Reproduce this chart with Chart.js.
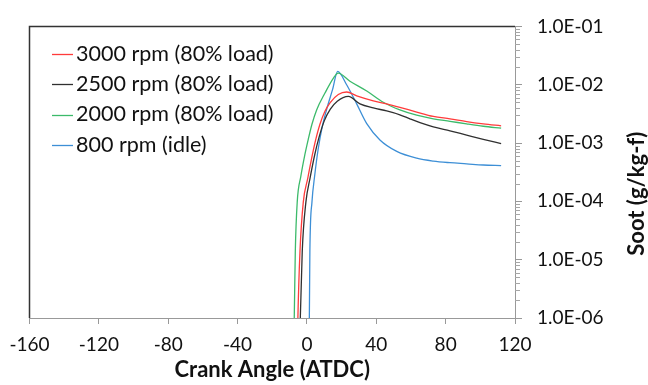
<!DOCTYPE html>
<html>
<head>
<meta charset="utf-8">
<script src="https://cdn.jsdelivr.net/npm/chart.js@4.4.0/dist/chart.umd.min.js"></script>
<style>
  html, body { margin: 0; padding: 0; background: #fff; }
</style>
</head>
<body>
<canvas id="sootChart" width="648" height="385"></canvas>
<script>
// crank angle (deg ATDC) and soot (g/kg-f)
const angle3000 = [-5.4, -5.2, -4.0, -2.1, 0.5, 3.0, 5.0, 7.5, 10.4, 13.3, 18.1, 22.9, 28.7, 38.3, 46, 53.6, 63.3, 72.9, 82.5, 92.1, 101.7, 112];
const soot3000 = [5e-7, 1.05e-6, 1.4e-5, 9.7e-5, 2.5e-4, 6.0e-4, 1.12e-3, 2.1e-3, 3.5e-3, 4.9e-3, 6.8e-3, 7.5e-3, 6.45e-3, 5.3e-3, 4.7e-3, 4.1e-3, 3.4e-3, 2.86e-3, 2.6e-3, 2.33e-3, 2.13e-3, 1.97e-3];

const angle2500 = [-4.0, -3.8, -2.7, -0.6, 1.8, 4.5, 7.0, 10.0, 13.5, 17.5, 23.9, 30.6, 38.3, 46, 53.6, 59.4, 65.2, 72.9, 82.5, 92.1, 101.7, 112];
const soot2500 = [5e-7, 1.05e-6, 1.4e-5, 9.7e-5, 2.5e-4, 6.3e-4, 1.26e-3, 2.4e-3, 3.8e-3, 5.2e-3, 6.3e-3, 4.7e-3, 4.0e-3, 3.55e-3, 3.05e-3, 2.6e-3, 2.24e-3, 1.9e-3, 1.62e-3, 1.37e-3, 1.16e-3, 9.8e-4];

const angle2000 = [-7.6, -7.3, -6.7, -5.6, -3.5, -1.2, 0.8, 2.9, 5.6, 10.4, 15.2, 18, 24.8, 34.5, 44, 53.6, 63.3, 72.9, 82.5, 92.1, 101.7, 112];
const soot2000 = [5e-7, 1.05e-6, 1.4e-5, 9.7e-5, 2.7e-4, 6.3e-4, 1.17e-3, 2.1e-3, 3.7e-3, 7.2e-3, 1.29e-2, 1.58e-2, 1.15e-2, 7.8e-3, 5.0e-3, 3.7e-3, 3.0e-3, 2.6e-3, 2.36e-3, 2.13e-3, 1.94e-3, 1.8e-3];

const angle800 = [1.2, 1.4, 1.7, 2.9, 4.5, 6.5, 9.0, 12.0, 14.8, 17.7, 22.9, 28.7, 34.5, 42.1, 51.8, 63.3, 72.9, 82.5, 92.1, 101.7, 112];
const soot800 = [5e-7, 1.05e-6, 1.4e-5, 9.7e-5, 2.8e-4, 7.9e-4, 2.0e-3, 4.4e-3, 8.3e-3, 1.7e-2, 1.0e-2, 4.7e-3, 2.15e-3, 1.13e-3, 7.2e-4, 5.5e-4, 4.9e-4, 4.6e-4, 4.4e-4, 4.2e-4, 4.1e-4];

const seriesLabels = ['3000 rpm (80% load)', '2500 rpm (80% load)', '2000 rpm (80% load)', '800 rpm (idle)'];
const seriesColors = ['#ff3b3b', '#303030', '#3cba6a', '#3d8fd6'];
const xTicks = [-160, -120, -80, -40, 0, 40, 80, 120];
const yDecades = [1e-6, 1e-5, 1e-4, 1e-3, 1e-2, 1e-1];

const FONT = 'Lato';
const TEXT = '#111111';

function toPoints(xs, ys) {
  return xs.map((x, i) => ({ x: x, y: ys[i] }));
}

// 1.0E-03 style labels
function sciLabel(v) {
  const e = Math.round(Math.log10(v));
  return '1.0E' + (e < 0 ? '-' : '+') + String(Math.abs(e)).padStart(2, '0');
}

const angles = [angle3000, angle2500, angle2000, angle800];
const soots = [soot3000, soot2500, soot2000, soot800];

const datasets = seriesLabels.map((label, i) => ({
  label: label,
  data: toPoints(angles[i], soots[i]),
  borderColor: seriesColors[i],
  backgroundColor: seriesColors[i],
  borderWidth: 1.3,
  pointRadius: 0,
  cubicInterpolationMode: 'monotone',
  fill: false
}));

// frame on top/left, minor log ticks, legend box and y title
const plotExtras = {
  id: 'plotExtras',
  afterDraw(chart) {
    const ctx = chart.ctx;
    const a = chart.chartArea;
    const yScale = chart.scales.y;
    ctx.save();

    ctx.strokeStyle = '#333333';
    ctx.lineWidth = 1.5;
    ctx.beginPath();
    ctx.moveTo(a.left, a.bottom);
    ctx.lineTo(a.left, a.top);
    ctx.lineTo(a.right, a.top);
    ctx.stroke();

    ctx.strokeStyle = '#a6a6a6';
    ctx.lineWidth = 1;
    ctx.beginPath();
    for (let d = 0; d < yDecades.length - 1; d++) {
      for (let k = 2; k <= 9; k++) {
        const py = Math.round(yScale.getPixelForValue(k * yDecades[d])) + 0.5;
        ctx.moveTo(a.right, py);
        ctx.lineTo(a.right + 5, py);
      }
    }
    ctx.stroke();

    // legend
    ctx.font = '21.5px ' + FONT;
    ctx.textBaseline = 'middle';
    ctx.textAlign = 'left';
    const lx = a.left + 22.5;
    let ly = a.top + 27.5;
    chart.data.datasets.forEach((ds) => {
      ctx.strokeStyle = ds.borderColor;
      ctx.lineWidth = 1.3;
      ctx.beginPath();
      ctx.moveTo(lx, Math.round(ly) + 0.5);
      ctx.lineTo(lx + 21, Math.round(ly) + 0.5);
      ctx.stroke();
      ctx.fillStyle = TEXT;
      ctx.fillText(ds.label, lx + 24, ly);
      ly += 30.3;
    });

    // y axis title
    ctx.translate(yScale.right - 11.5, (a.top + a.bottom) / 2 + 21.5);
    ctx.rotate(-Math.PI / 2);
    ctx.textAlign = 'center';
    ctx.font = 'bold 22px ' + FONT;
    ctx.fillStyle = TEXT;
    ctx.fillText('Soot (g/kg-f)', 0, 0);
    ctx.restore();
  }
};

new Chart(document.getElementById('sootChart'), {
  type: 'line',
  data: { datasets: datasets },
  options: {
    responsive: false,
    animation: false,
    events: [],
    layout: { padding: { left: 29.5, top: 21, right: 0, bottom: 0 } },
    plugins: {
      legend: { display: false },
      tooltip: { enabled: false }
    },
    scales: {
      x: {
        type: 'linear',
        position: 'bottom',
        min: xTicks[0],
        max: xTicks[xTicks.length - 1],
        afterBuildTicks: (scale) => { scale.ticks = xTicks.map(v => ({ value: v })); },
        afterFit: (scale) => { scale.height = 67; },
        ticks: {
          font: { family: FONT, size: 19 },
          color: TEXT,
          padding: 9,
          maxRotation: 0
        },
        grid: { drawOnChartArea: false, tickLength: 6, color: '#999999' },
        border: { color: '#999999', width: 1 },
        title: {
          display: true,
          text: 'Crank Angle (ATDC)',
          font: { family: FONT, size: 22, weight: 'bold' },
          color: TEXT,
          padding: { top: 0, bottom: 2 }
        }
      },
      y: {
        type: 'logarithmic',
        position: 'right',
        min: yDecades[0],
        max: yDecades[yDecades.length - 1],
        afterBuildTicks: (scale) => { scale.ticks = yDecades.map(v => ({ value: v, major: true })); },
        afterFit: (scale) => { scale.width = 133; },
        ticks: {
          font: { family: FONT, size: 19 },
          color: TEXT,
          padding: 15,
          callback: (v) => sciLabel(v)
        },
        grid: { drawOnChartArea: false, tickLength: 7, color: '#999999' },
        border: { color: '#999999', width: 1 }
      }
    }
  },
  plugins: [plotExtras]
});
</script>
</body>
</html>
